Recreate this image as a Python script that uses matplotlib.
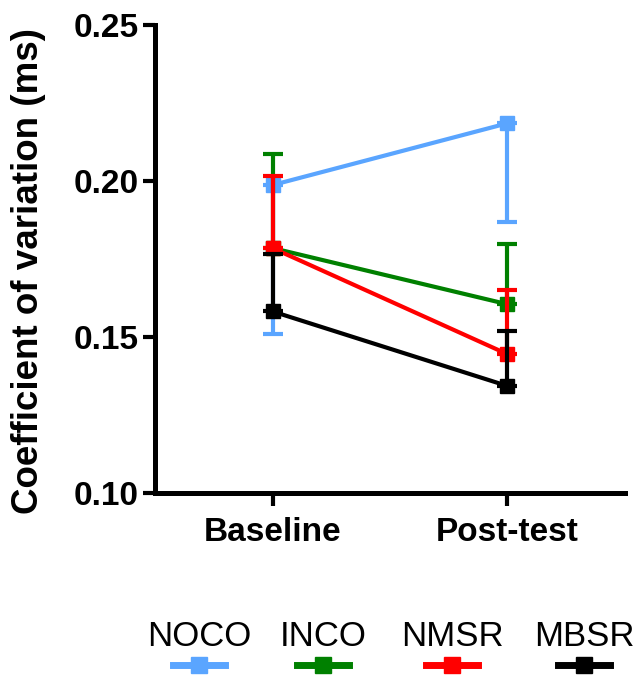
import matplotlib
matplotlib.use('Agg')
import matplotlib.pyplot as plt
from matplotlib.lines import Line2D
import numpy as np

plt.rcParams['font.family'] = ['Liberation Sans', 'DejaVu Sans']

# data
timepoints = ['Baseline', 'Post-test']
groups = ['NOCO', 'INCO', 'NMSR', 'MBSR']
colors = ['#5aa5ff', '#008000', '#ff0000', '#000000']
noco = [0.1987, 0.2185]
inco = [0.1785, 0.1605]
nmsr = [0.1785, 0.1445]
mbsr = [0.1582, 0.1343]
# error bar ends (NOCO drawn downwards, the rest upwards)
noco_low = [0.1510, 0.1870]
inco_high = [0.2087, 0.1797]
nmsr_high = [0.2015, 0.1652]
mbsr_high = [0.1765, 0.1518]

x = np.arange(len(timepoints))
means = [noco, inco, nmsr, mbsr]
errs = [
    [np.subtract(noco, noco_low), np.zeros(2)],
    [np.zeros(2), np.subtract(inco_high, inco)],
    [np.zeros(2), np.subtract(nmsr_high, nmsr)],
    [np.zeros(2), np.subtract(mbsr_high, mbsr)],
]

fig = plt.figure(figsize=(6.39, 6.76), dpi=100)
ax = fig.add_axes([0.2426, 0.2707, 0.7354, 0.6923])

# later groups drawn on top, as in the original
for i, (m, e, c) in enumerate(zip(means, errs, colors)):
    ax.errorbar(x, m, yerr=e, color=c, lw=3, marker='s', ms=10.5,
                capsize=7, capthick=3, elinewidth=3, zorder=2 + i)

ax.set_xlim(-0.5, 1.5)
ax.set_ylim(0.10, 0.25)
ax.set_yticks([0.10, 0.15, 0.20, 0.25])
ax.set_yticklabels(['0.10', '0.15', '0.20', '0.25'])
ax.set_xticks(x)
ax.set_xticklabels(timepoints)
for s in ['top', 'right']:
    ax.spines[s].set_visible(False)
for s in ['left', 'bottom']:
    ax.spines[s].set_linewidth(3.6)
ax.tick_params(width=3, length=9, labelsize=24, pad=3)
ax.tick_params(axis='x', pad=8)
for lab in ax.get_xticklabels() + ax.get_yticklabels():
    lab.set_fontweight('bold')
ax.set_ylabel('Coefficient of variation (ms)', fontsize=26.5, fontweight='bold')
ax.yaxis.set_label_coords(-0.232, 0.474)

# legend: name above a short line with a square marker
leg_x = [199, 323, 452, 584]
for g, c, px in zip(groups, colors, leg_x):
    fx = px / 639
    fig.text(fx, 0.058, g, fontsize=25, ha='center', va='center')
    fig.add_artist(Line2D([fx - 0.041, fx + 0.041], [0.016, 0.016], color=c,
                          lw=5, transform=fig.transFigure))
    fig.add_artist(Line2D([fx], [0.016], color=c, marker='s', ms=11,
                          transform=fig.transFigure))

fig.savefig('out.png', dpi=100)
